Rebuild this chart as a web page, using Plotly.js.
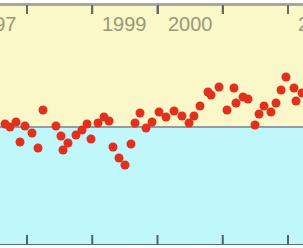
<!DOCTYPE html>
<html><head><meta charset="utf-8">
<script src="https://cdn.plot.ly/plotly-3.0.1.min.js"></script>
<style>html,body{margin:0;padding:0;overflow:hidden;background:#fff;width:303px;height:248px}
#chart{position:absolute;left:-80px;top:0;width:463px;height:248px}</style>
</head><body><div id="chart"></div>
<script>
// Decimal year of each monthly reading
var years = [1997.663,1997.739,1997.831,1997.893,1997.969,1998.077,1998.169,1998.245,1998.444,1998.521,
  1998.552,1998.628,1998.751,1998.843,1998.920,1998.981,1999.088,1999.180,1999.257,1999.318,
  1999.410,1999.502,1999.594,1999.655,1999.732,1999.824,1999.916,2000.023,2000.130,2000.253,
  2000.375,2000.483,2000.559,2000.651,2000.774,2000.820,2000.943,2001.065,2001.172,2001.203,
  2001.310,2001.387,2001.494,2001.556,2001.632,2001.739,2001.816,2001.893,2001.969,2002.092,
  2002.123,2002.215];
// Anomaly values
var anomalies = [0.03,0.00,0.05,-0.15,0.01,-0.06,-0.21,0.17,0.01,-0.09,
  -0.23,-0.16,-0.08,-0.03,0.03,-0.12,0.04,0.10,0.06,-0.20,
  -0.31,-0.38,-0.17,0.04,0.14,-0.01,0.05,0.15,0.10,0.16,
  0.11,0.04,0.11,0.21,0.35,0.32,0.40,0.17,0.39,0.24,
  0.30,0.28,0.02,0.13,0.21,0.15,0.24,0.37,0.50,0.39,
  0.26,0.34];
// Year boundaries (ticks) and year labels (centred in each year)
var tickYears = [1997,1998,1999,2000,2001,2002,2003];
var labelYears = [1997.5,1999.5,2000.5,2002.5];
var labelText = ['1997','1999','2000','2002'];

var xr = [1996.3602, 2003.4559];
var yr = [-1.18, 1.22];
var pxPerUnit = 240 / (yr[1] - yr[0]);

// Frame tick marks built from the tick years on the chart's own scales
function tickPath(yEdge, lenPx) {
  var xs = [], ys = [];
  tickYears.forEach(function (t) {
    xs.push(t, t, null);
    ys.push(yEdge, yEdge + lenPx / pxPerUnit, null);
  });
  return {x: xs, y: ys};
}
var topTicks = tickPath(yr[1], -9);
var bottomTicks = tickPath(yr[0], 10);

var data = [
  {x: years, y: anomalies, type: 'scatter', mode: 'markers',
   marker: {size: 9, color: '#e2301f'}, cliponaxis: true, hoverinfo: 'skip', showlegend: false},
  {x: topTicks.x, y: topTicks.y, type: 'scatter', mode: 'lines', connectgaps: false,
   line: {color: '#6a6a5a', width: 2}, hoverinfo: 'skip', showlegend: false, cliponaxis: false},
  {x: bottomTicks.x, y: bottomTicks.y, type: 'scatter', mode: 'lines', connectgaps: false,
   line: {color: '#4a6666', width: 2}, hoverinfo: 'skip', showlegend: false, cliponaxis: false},
  {x: xr, y: [yr[1], yr[1]], type: 'scatter', mode: 'lines',
   line: {color: '#a8a8a0', width: 2}, hoverinfo: 'skip', showlegend: false, cliponaxis: false},
  {x: xr, y: [yr[0], yr[0]], type: 'scatter', mode: 'lines',
   line: {color: '#5a7070', width: 2}, hoverinfo: 'skip', showlegend: false, cliponaxis: false}
];

var annotations = labelYears.map(function (v, i) {
  return {x: v, xref: 'x', y: 1, yref: 'paper', yanchor: 'top', xanchor: 'center',
    yshift: -6, showarrow: false, text: labelText[i],
    font: {family: 'Liberation Sans, Arial, sans-serif', size: 20, color: '#999977'}};
});

var layout = {
  width: 463, height: 248,
  margin: {l: 0, r: 0, t: 5, b: 3, pad: 0},
  paper_bgcolor: '#ffffff', plot_bgcolor: '#faf7c8',
  showlegend: false,
  xaxis: {range: xr, side: 'top', tickmode: 'array', tickvals: tickYears,
    ticks: 'inside', ticklen: 9, tickwidth: 2, tickcolor: '#6a6a5a',
    showticklabels: false, showline: true, linecolor: '#a8a8a0', linewidth: 2,
    showgrid: false, zeroline: false, fixedrange: true},
  yaxis: {range: yr, showticklabels: false, ticks: '', showgrid: false,
    showline: false, zeroline: true, zerolinecolor: '#9a9a9a', zerolinewidth: 2, fixedrange: true},
  annotations: annotations,
  shapes: [
    {type: 'rect', xref: 'paper', yref: 'y', x0: 0, x1: 1, y0: yr[0], y1: 0,
     fillcolor: '#c0f7fa', line: {width: 0}, layer: 'below'}
  ]
};
Plotly.newPlot('chart', data, layout, {displayModeBar: false, staticPlot: true});
</script></body></html>
